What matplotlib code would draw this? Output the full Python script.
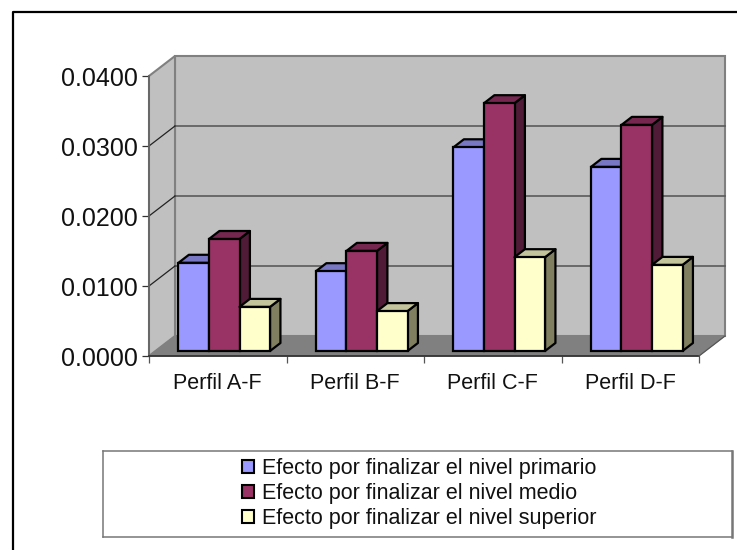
import matplotlib
matplotlib.use('Agg')
import matplotlib.pyplot as plt
from matplotlib.patches import Polygon, Rectangle

plt.rcParams['font.family'] = ['Liberation Sans', 'DejaVu Sans']

categories = ['Perfil A-F', 'Perfil B-F', 'Perfil C-F', 'Perfil D-F']
nivel_primario = [0.0126, 0.0114, 0.0291, 0.0263]
nivel_medio = [0.0160, 0.0143, 0.0354, 0.0323]
nivel_superior = [0.0063, 0.0057, 0.0134, 0.0123]
series_names = ['Efecto por finalizar el nivel primario',
                'Efecto por finalizar el nivel medio',
                'Efecto por finalizar el nivel superior']
yticks = [0.0, 0.01, 0.02, 0.03, 0.04]

W, H = 737, 550
fig = plt.figure(figsize=(W / 100, H / 100), dpi=100)
fig.patch.set_facecolor('white')


def px_axes(left, top, right, bottom):
    return [left / W, 1 - bottom / H, (right - left) / W, (bottom - top) / H]


# frame around the chart, only top and left are in the crop
frame = fig.add_axes([0, 0, 1, 1], zorder=0)
frame.set_xlim(0, W)
frame.set_ylim(H, 0)
frame.axis('off')
frame.plot([13, 13, W], [H, 11.5, 11.5], color='black', lw=1.6)

ax = fig.add_axes(px_axes(149, 76, 699, 356), zorder=1)
ax.set_xlim(-0.5, 3.5)
ax.set_ylim(0, 0.04)
ax.patch.set_visible(False)
for s in ax.spines.values():
    s.set_visible(False)

# depth of the fake 3d box, in data units
dx = 26 / 137.5
dy = 20 / 7000
x0, x1 = -0.5, 3.5

ax.add_patch(Polygon([(x0 + dx, dy), (x1 + dx, dy), (x1 + dx, 0.04 + dy), (x0 + dx, 0.04 + dy)],
                     fc='#c0c0c0', ec='#808080', lw=1.5, clip_on=False, zorder=1))
ax.add_patch(Polygon([(x0, 0), (x0 + dx, dy), (x0 + dx, 0.04 + dy), (x0, 0.04)],
                     fc='#c0c0c0', ec='#808080', lw=1.5, clip_on=False, zorder=1))
ax.add_patch(Polygon([(x0, 0), (x1, 0), (x1 + dx, dy), (x0 + dx, dy)],
                     fc='#808080', ec='#808080', lw=0.5, clip_on=False, zorder=1))
for t in yticks[1:-1]:
    ax.plot([x0 + dx, x1 + dx], [t + dy, t + dy], color='#5a5a5a', lw=1.2,
            clip_on=False, zorder=2)
    ax.plot([x0, x0 + dx], [t, t + dy], color='#222222', lw=0.9, clip_on=False, zorder=2)
ax.plot([x0, x0], [0, 0.04], color='#666666', lw=1.3, clip_on=False, zorder=2)
ax.plot([x0, x1], [0, 0], color='#333333', lw=1.3, clip_on=False, zorder=2)
ax.plot([x1, x1 + dx], [0, dy], color='#555555', lw=0.9, clip_on=False, zorder=2)

series = [nivel_primario, nivel_medio, nivel_superior]
faces = ['#9999ff', '#993366', '#ffffcc']
tops = ['#7777c4', '#762750', '#c4c49c']
sides = ['#7777c4', '#4f1b36', '#808060']

bar_w = 0.222
bar_dx = 0.4 * dx
bar_dy = 0.4 * dy
base = 0.25 * dy
shift = 0.25 * dx
z = 3
for i, vals in enumerate(series):
    for j, v in enumerate(vals):
        left = j + shift + (i - 1.5) * bar_w
        right = left + bar_w
        top = base + v
        ax.add_patch(Polygon([(right, base), (right + bar_dx, base + bar_dy),
                              (right + bar_dx, top + bar_dy), (right, top)],
                             fc=sides[i], ec='black', lw=1.6, joinstyle='round',
                             clip_on=False, zorder=z))
        ax.add_patch(Polygon([(left, top), (right, top), (right + bar_dx, top + bar_dy),
                              (left + bar_dx, top + bar_dy)],
                             fc=tops[i], ec='black', lw=1.6, joinstyle='round',
                             clip_on=False, zorder=z))
    ax.bar([j + shift + (i - 1) * bar_w for j in range(4)], vals, bar_w, bottom=base,
           color=faces[i], edgecolor='black', lw=1.6, clip_on=False, zorder=z + 0.5)
    z += 1

ax.set_yticks(yticks)
ax.set_yticklabels(['%.4f' % t for t in yticks], fontsize=18, color='#111111')
ax.set_xticks([-0.5, 0.5, 1.5, 2.5, 3.5])
ax.set_xticklabels([])
ax.set_xticks(range(4), minor=True)
ax.set_xticklabels(categories, minor=True, fontsize=15.5, color='#111111')
ax.tick_params(axis='x', which='major', length=5, color='#555555', width=0.9)
ax.tick_params(axis='x', which='minor', length=0, pad=12)
ax.tick_params(axis='y', length=5, color='#333333', width=0.9, pad=3)

# legend box
leg = fig.add_axes(px_axes(103, 451, 732, 537), zorder=2)
leg.set_xlim(103, 732)
leg.set_ylim(537, 451)
leg.set_xticks([])
leg.set_yticks([])
for s in leg.spines.values():
    s.set_color('#777777')
    s.set_linewidth(1.1)
leg.spines['right'].set_linewidth(1.8)
handles = [Rectangle((0, 0), 1, 1, fc=c, ec='black', lw=1.5) for c in faces]
leg.legend(handles, series_names, loc='center', bbox_to_anchor=(0.503, 0.505), frameon=False,
           fontsize=15.5, handlelength=0.55, handleheight=0.55, handletextpad=0.4,
           labelspacing=0.19, borderpad=0, labelcolor='#111111')

fig.savefig('out.png', dpi=100)
